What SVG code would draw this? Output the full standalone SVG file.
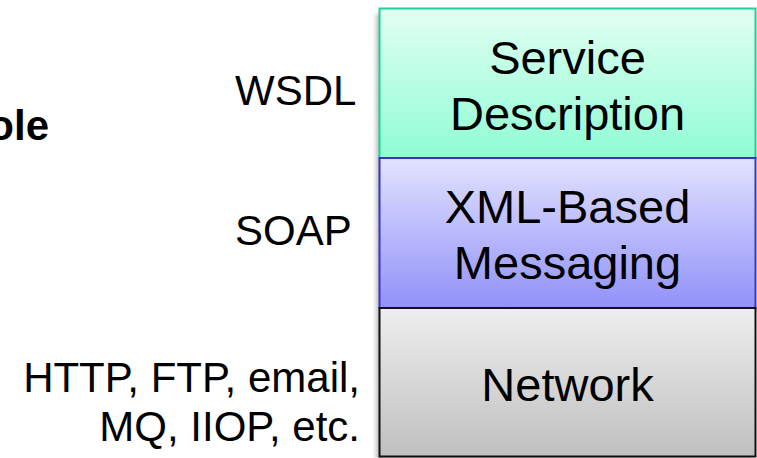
<svg xmlns="http://www.w3.org/2000/svg" width="757" height="458" viewBox="0 0 757 458">
  <style>
    .lbl { font-family: "Liberation Sans", Arial, sans-serif; font-size: 42px; fill: #000; }
    .box-text { font-family: "Liberation Sans", Arial, sans-serif; font-size: 47px; fill: #000; text-anchor: middle; }
    .title { font-family: "Liberation Sans", Arial, sans-serif; font-size: 42px; font-weight: bold; fill: #000; text-anchor: end; }
  </style>
  <defs>
    <linearGradient id="gGreen" x1="0" y1="0" x2="0" y2="1">
      <stop offset="0" stop-color="#e2fff2"/>
      <stop offset="1" stop-color="#8ffcd3"/>
    </linearGradient>
    <linearGradient id="gBlue" x1="0" y1="0" x2="0" y2="1">
      <stop offset="0" stop-color="#e2e2ff"/>
      <stop offset="1" stop-color="#9191f9"/>
    </linearGradient>
    <linearGradient id="gGray" x1="0" y1="0" x2="0" y2="1">
      <stop offset="0" stop-color="#eeeeee"/>
      <stop offset="1" stop-color="#bfbfbf"/>
    </linearGradient>
    <filter id="shadow" x="-10%" y="-10%" width="120%" height="120%">
      <feGaussianBlur stdDeviation="2"/>
    </filter>
  </defs>

  <!-- heading fragment -->
  <text class="title" x="49" y="140">ole</text>

  <!-- protocol labels -->
  <g id="labels">
    <text class="lbl" x="235" y="105">WSDL</text>
    <text class="lbl" x="235" y="245">SOAP</text>
    <text class="lbl" x="360" y="392" text-anchor="end">HTTP, FTP, email,</text>
    <text class="lbl" x="360" y="441" text-anchor="end">MQ, IIOP, etc.</text>
  </g>

  <!-- stack shadow -->
  <rect x="376" y="14" width="376" height="446" fill="#000" opacity="0.25" filter="url(#shadow)"/>

  <g id="service-description">
    <rect x="379.5" y="8.5" width="376" height="149.5" fill="url(#gGreen)" stroke="#1fcf9b" stroke-width="2"/>
    <text class="box-text" x="567.5" y="74">Service</text>
    <text class="box-text" x="567.5" y="130">Description</text>
  </g>

  <g id="xml-messaging">
    <rect x="379.5" y="158" width="376" height="150" fill="url(#gBlue)" stroke="#3535c8" stroke-width="2"/>
    <text class="box-text" x="567.5" y="223">XML-Based</text>
    <text class="box-text" x="567.5" y="279">Messaging</text>
  </g>

  <g id="network">
    <rect x="379.5" y="308" width="376" height="148.5" fill="url(#gGray)" stroke="#111" stroke-width="2"/>
    <text class="box-text" x="567.5" y="401">Network</text>
  </g>

  <g id="connectors"/>
</svg>
